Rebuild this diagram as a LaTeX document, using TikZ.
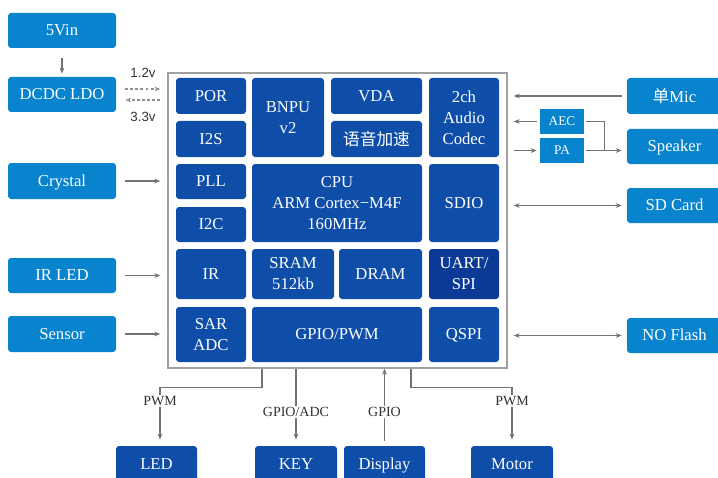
\documentclass[tikz,border=0pt]{standalone}
\usepackage{fontspec}
\setmainfont{Liberation Serif}
\newfontfamily\sansf{Liberation Sans}
\newfontfamily\cjk{Noto Sans CJK SC}
\usetikzlibrary{arrows.meta,calc}
\definecolor{lblue}{RGB}{8,131,206}
\definecolor{dblue}{RGB}{14,78,168}
\definecolor{ddblue}{RGB}{10,58,150}
\definecolor{lgray}{RGB}{115,115,115}
\definecolor{ogray}{RGB}{160,160,160}
\begin{document}
\begin{tikzpicture}[x=0.75pt,y=-0.75pt,
  rect/.style n args={4}{at={($(#1,#2)!0.5!(#3,#4)$)}, minimum width={(#3-#1)*0.75pt}, minimum height={(#4-#2)*0.75pt}},
  blk/.style={rounded corners=2.3pt, inner sep=0pt, text=white, align=center, font=\fontsize{12.5}{15.75}\selectfont},
  one/.style={text height=8.2pt, text depth=0pt},
  lb/.style={blk, fill=lblue},
  db/.style={blk, fill=dblue},
  sb/.style={inner sep=0pt, fill=lblue, text=white, font=\fontsize{10}{12}\selectfont, text height=6.6pt, text depth=0pt},
  arr/.style={draw=lgray, line width=0.9pt, -{Stealth[length=4.5pt,width=3.5pt]}},
  arrb/.style={draw=lgray, line width=0.9pt, {Stealth[length=4.5pt,width=3.5pt]}-{Stealth[length=4.5pt,width=3.5pt]}},
  dsh/.style={dash pattern=on 2.2pt off 1.6pt, draw=lgray!80},
  ln/.style={draw=lgray, line width=0.9pt},
  lab/.style={font=\fontsize{10.5}{12}\selectfont, fill=white, inner sep=1pt, text=black!80},
  slab/.style={font=\sansf\fontsize{10}{12}\selectfont, inner sep=0pt, text=black!80}]
\useasboundingbox (0,0) rectangle (718,478);
\clip (0,0) rectangle (718,478);
% chip outline
\node[draw=ogray, line width=1pt, inner sep=0pt, rect={168}{73}{507}{368}] (chip) {};
% inner blocks
\node[db, one, rect={176}{78}{246}{114}] (por) {POR};
\node[db, one, rect={176}{121}{246}{157}] (i2s) {I2S};
\node[db, rect={252}{78}{324}{157}] (bnpu) {BNPU\\v2};
\node[db, one, rect={331}{78}{422}{114}] (vda) {VDA};
\node[db, rect={331}{121}{422}{157}] (speech) {\cjk 语音加速};
\node[db, rect={429}{78}{499}{157}] (codec) {2ch\\Audio\\Codec};
\node[db, one, rect={176}{164}{246}{199}] (pll) {PLL};
\node[db, one, rect={176}{207}{246}{242}] (i2c) {I2C};
\node[db, rect={252}{164}{422}{242}] (cpu) {CPU\\ARM Cortex−M4F\\160MHz};
\node[db, one, rect={429}{164}{499}{242}] (sdio) {SDIO};
\node[db, one, rect={176}{249}{246}{299}] (ir) {IR};
\node[db, rect={252}{249}{334}{299}] (sram) {SRAM\\512kb};
\node[db, one, rect={339}{249}{422}{299}] (dram) {DRAM};
\node[blk, fill=ddblue, rect={429}{249}{499}{299}] (uart) {UART/\\SPI};
\node[db, rect={176}{307}{246}{362}] (sar) {SAR\\ADC};
\node[db, one, rect={252}{307}{422}{362}] (gpio) {GPIO/PWM};
\node[db, one, rect={429}{307}{499}{362}] (qspi) {QSPI};
% left blocks
\node[lb, one, rect={8}{13}{116}{48}] (v5) {5Vin};
\node[lb, one, rect={8}{77}{116}{112}] (dcdc) {DCDC LDO};
\node[lb, one, rect={8}{163}{116}{199}] (crystal) {Crystal};
\node[lb, one, rect={8}{258}{116}{293}] (irled) {IR LED};
\node[lb, one, rect={8}{316}{116}{352}] (sensor) {Sensor};
% right blocks
\node[lb, rect={627}{78}{722}{114}] (mic) {{\cjk 单}Mic};
\node[lb, one, rect={627}{129}{722}{164}] (speaker) {Speaker};
\node[lb, one, rect={627}{188}{722}{223}] (sd) {SD Card};
\node[lb, one, rect={627}{318}{722}{353}] (flash) {NO Flash};
\node[sb, rect={540}{109}{584}{134}] (aec) {AEC};
\node[sb, rect={540}{138}{584}{163}] (pa) {PA};
% bottom blocks
\node[db, one, rect={116}{446}{197}{482}] (led) {LED};
\node[db, one, rect={255}{446}{337}{482}] (key) {KEY};
\node[db, one, rect={344}{446}{425}{482}] (display) {Display};
\node[db, one, rect={471}{446}{553}{482}] (motor) {Motor};
% left connectors
\draw[arr, shorten <=7.5pt, shorten >=2.25pt] (v5) -- (dcdc);
\draw[arr, dsh, shorten <=6.75pt, shorten >=5.25pt] ([yshift=4.1pt]dcdc.east) -- ([yshift=4.1pt]dcdc.east -| chip.west);
\draw[arr, dsh, shorten <=5.25pt, shorten >=6.75pt] ([yshift=-4.1pt]dcdc.east -| chip.west) -- ([yshift=-4.1pt]dcdc.east);
\node[slab] (l12) at (143,73) {1.2v};
\node[slab] (l33) at (143,117) {3.3v};
\draw[arr, shorten <=6.75pt, shorten >=5.25pt] (crystal) -- (crystal -| chip.west);
\draw[arr, shorten <=6.75pt, shorten >=5.25pt] (irled) -- (irled -| chip.west);
\draw[arr, shorten <=6.75pt, shorten >=5.25pt] (sensor) -- (sensor -| chip.west);
% right connectors
\draw[arr, shorten <=3.75pt, shorten >=4.5pt] (mic) -- (mic -| chip.east);
\draw[arr, shorten <=2.25pt, shorten >=4.5pt] (aec) -- (aec -| chip.east);
\draw[arr, shorten <=4.5pt, shorten >=2.25pt] (pa -| chip.east) -- (pa);
\draw[arr, shorten <=1.5pt, shorten >=3.75pt] (pa.east) -- (pa.east -| speaker.west);
\draw[ln, shorten <=1.5pt] (aec.east) -| ($(pa.east)+(20,0)$);
\draw[arrb, shorten <=3.75pt, shorten >=4.5pt] (sd) -- (sd -| chip.east);
\draw[arrb, shorten <=3.75pt, shorten >=4.5pt] (flash) -- (flash -| chip.east);
% bottom connectors
\coordinate (b1) at (262,0);
\coordinate (b4) at (411,0);
\draw[arr, shorten >=4.5pt] (chip.south -| b1) -- ++(0,19) -| ([xshift=2.6pt]led.north);
\draw[arr, shorten >=4.5pt] (chip.south -| key.north) -- (key.north);
\draw[arr, shorten <=3.75pt] (display.north) -- (chip.south -| display.north);
\draw[arr, shorten >=4.5pt] (chip.south -| b4) -- ++(0,19) -| (motor.north);
\node[lab] (pwm1) at (160,401) {PWM};
\node[lab] (gadc) at (296,412) {GPIO/ADC};
\node[lab] (gp) at (384.5,412) {GPIO};
\node[lab] (pwm2) at (512,401) {PWM};
\end{tikzpicture}
\end{document}
